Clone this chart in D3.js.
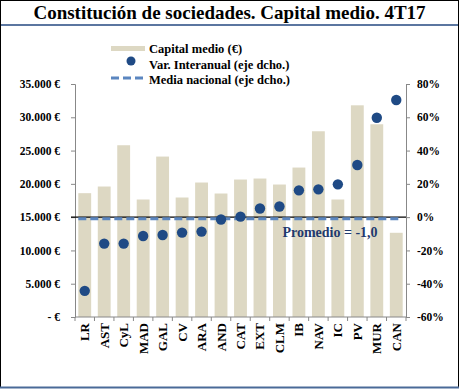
<!DOCTYPE html>
<html>
<head>
<meta charset="utf-8">
<script src="https://cdn.jsdelivr.net/npm/d3@7"></script>
<style>
body { margin: 0; background: #fff; }
text { font-family: "Liberation Serif", "Times New Roman", serif; font-weight: bold; }
</style>
</head>
<body>
<div id="chart"></div>
<script>
var regions = ["LR", "AST", "CyL", "MAD", "GAL", "CV", "ARA", "AND", "CAT", "EXT", "CLM", "IB", "NAV", "IC", "PV", "MUR", "CAN"];
var capital = [18600, 19600, 25800, 17650, 24100, 17950, 20200, 18550, 20650, 20800, 19900, 22450, 27900, 17650, 31800, 28950, 12650];
var variacion = [-44.3, -15.9, -15.9, -11.3, -10.7, -9.3, -8.7, -1.4, 0.3, 5.2, 6.4, 16.1, 16.7, 19.7, 31.3, 59.7, 70.4];
var mediaNacional = -1.0;
var leftTicks = [0, 5000, 10000, 15000, 20000, 25000, 30000, 35000];
var rightTicks = [-60, -40, -20, 0, 20, 40, 60, 80];
var legendText = ["Capital medio (€)", "Var. Interanual (eje dcho.)", "Media nacional (eje dcho.)"];

var W = 459, H = 389;
var margin = { top: 84, right: 53, bottom: 72, left: 75 },
width = W - margin.left - margin.right,
height = H - margin.top - margin.bottom;

var root = d3.select("#chart").append("svg")
.attr("width", W)
.attr("height", H);

// frame
root.append("rect").attr("x", 0.5).attr("y", 0.5).attr("width", W - 1).attr("height", H - 2)
.attr("fill", "none").attr("stroke", "#000");
root.append("line").attr("x1", 0).attr("x2", W).attr("y1", 387.5).attr("y2", 387.5)
.attr("stroke", "#4a6a98").attr("stroke-width", 2);
root.append("line").attr("x1", 1).attr("x2", W - 1).attr("y1", 25).attr("y2", 25)
.attr("stroke", "#5b76a0").attr("stroke-width", 2);

root.append("text")
.attr("x", W / 2).attr("y", 19)
.attr("text-anchor", "middle")
.style("font-size", "19px")
.text("Constitución de sociedades. Capital medio. 4T17");

var svg = root.append("g")
.attr("transform", "translate(" + margin.left + "," + margin.top + ")");

var x = d3.scaleBand().domain(regions).range([0, width]).paddingInner(0.34).paddingOuter(0.17);
var y = d3.scaleLinear().domain([0, 35000]).range([height, 0]);
var y2 = d3.scaleLinear().domain([-60, 80]).range([height, 0]);

// bars
svg.append("g").selectAll("rect")
.data(regions)
.enter()
.append("rect")
.attr("x", d => x(d))
.attr("y", (d, i) => y(capital[i]))
.attr("width", x.bandwidth())
.attr("height", (d, i) => height - y(capital[i]))
.attr("fill", "#ddd8c3");

// left axis
var fmt = d3.formatLocale({ decimal: ",", thousands: ".", grouping: [3], currency: ["", ""] }).format(",");
var ax = svg.append("g")
.call(d3.axisLeft(y).tickValues(leftTicks).tickSize(4).tickPadding(11)
.tickFormat(d => d === 0 ? "-   €" : fmt(d) + " €"));
ax.selectAll("text").style("font-size", "11.5px").style("font-family", "'Liberation Serif', serif").attr("fill", "#000");
ax.selectAll("line, path").attr("stroke", "#888");

// right axis
var ax2 = svg.append("g")
.attr("transform", "translate(" + width + ",0)")
.call(d3.axisRight(y2).tickValues(rightTicks).tickSize(4).tickPadding(7)
.tickFormat(d => d + "%"));
ax2.selectAll("text").style("font-size", "11.5px").style("font-family", "'Liberation Serif', serif").attr("fill", "#000");
ax2.selectAll("line, path").attr("stroke", "#888");

// bottom axis: ticks between categories
var bx = svg.append("g").attr("transform", "translate(0," + height + ")");
bx.append("line").attr("x1", 0).attr("x2", width).attr("stroke", "#888");
bx.selectAll("line.tk")
.data(d3.range(regions.length + 1))
.enter()
.append("line")
.attr("class", "tk")
.attr("x1", i => i * width / regions.length).attr("x2", i => i * width / regions.length)
.attr("y1", 0).attr("y2", 4)
.attr("stroke", "#888");
bx.selectAll("text")
.data(regions)
.enter()
.append("text")
.attr("transform", d => "translate(" + (x(d) + x.bandwidth() / 2 + 4.5) + ",6) rotate(-90)")
.attr("text-anchor", "end")
.style("font-size", "13px")
.text(d => d);

// zero line
svg.append("line")
.attr("x1", -4).attr("x2", width)
.attr("y1", y2(0)).attr("y2", y2(0))
.attr("stroke", "#000").attr("stroke-width", 1.3);

// national average dashed
svg.append("line")
.attr("x1", x(regions[0])).attr("x2", x(regions[regions.length - 1]) + x.bandwidth() - 4)
.attr("y1", y2(mediaNacional)).attr("y2", y2(mediaNacional))
.attr("stroke", "#5b86c0").attr("stroke-width", 3).attr("stroke-dasharray", "8,4");

svg.append("text")
.attr("x", 255).attr("y", y2(mediaNacional) + 18)
.attr("text-anchor", "middle")
.attr("fill", "#1f3a6e")
.style("font-size", "14px")
.text("Promedio = -1,0");

// dots
svg.append("g").selectAll("circle")
.data(regions)
.enter()
.append("circle")
.attr("cx", d => x(d) + x.bandwidth() / 2)
.attr("cy", (d, i) => y2(variacion[i]))
.attr("r", 5.2)
.attr("fill", "#1f4a85");

// legend
var lg = root.append("g");
lg.append("rect").attr("x", 111).attr("y", 46).attr("width", 34).attr("height", 5).attr("fill", "#ddd8c3");
lg.append("circle").attr("cx", 131).attr("cy", 61).attr("r", 4.5).attr("fill", "#1f4a85");
lg.append("line").attr("x1", 111).attr("x2", 145).attr("y1", 78).attr("y2", 78)
.attr("stroke", "#5b86c0").attr("stroke-width", 3).attr("stroke-dasharray", "8,4");
lg.selectAll("text.lg")
.data(legendText)
.enter()
.append("text")
.attr("x", 149)
.attr("y", (d, i) => 53 + i * 15.5)
.style("font-size", "12.5px")
.text(d => d);
</script>
</body>
</html>
